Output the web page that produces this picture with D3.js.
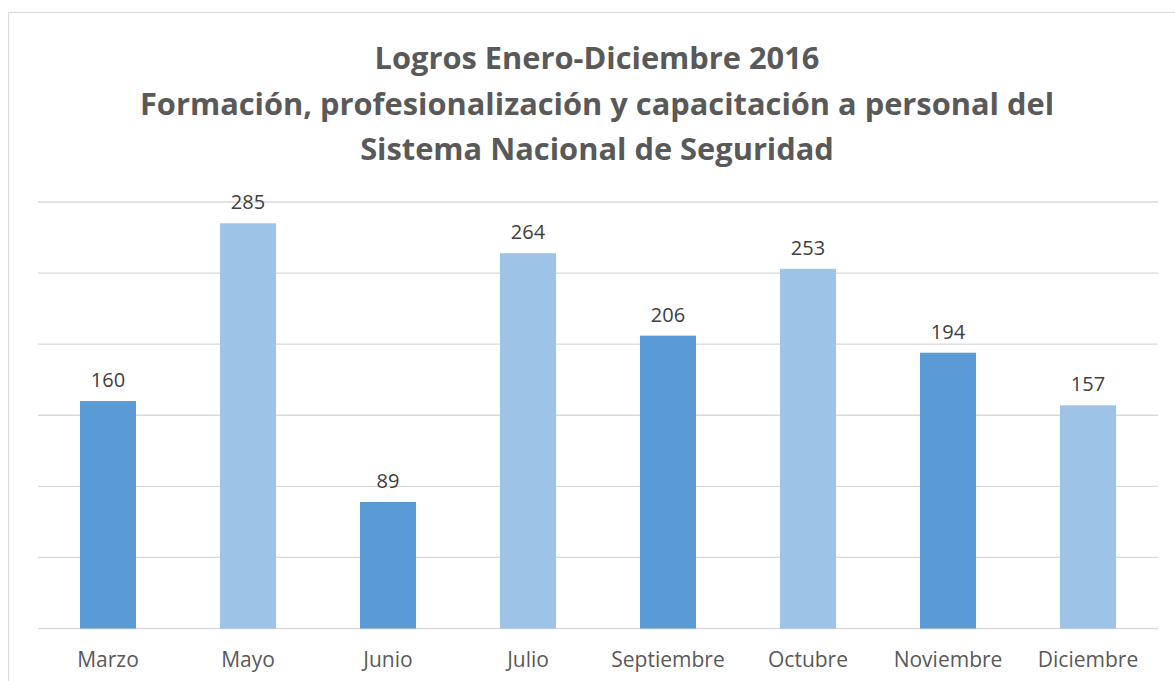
<!DOCTYPE html>
<html lang="es">
<head>
  <meta charset="UTF-8">
  <title>Logros Enero-Diciembre 2016</title>
  <script src="https://d3js.org/d3.v7.min.js"></script>
  <style>
    body { margin: 0; padding: 0; background: #fff; overflow: hidden; }
    svg { display: block; font-family: "Open Sans", sans-serif; }
  </style>
</head>
<body>
<svg id="chart" width="1175" height="681"></svg>
<script>
// datos
const months = ["Marzo", "Mayo", "Junio", "Julio", "Septiembre", "Octubre", "Noviembre", "Diciembre"];
const values = [160, 285, 89, 264, 206, 253, 194, 157];
const barColors = ["#5B9BD5", "#9DC3E6"];
const yTicks = [0, 50, 100, 150, 200, 250, 300];
const titleLines = [
  "Logros Enero-Diciembre 2016",
  "Formación, profesionalización y capacitación a personal del",
  "Sistema Nacional de Seguridad"
];

const svg = d3.select("#chart");
const plot = {left: 38, right: 1158, top: 202, bottom: 628.5};

// marco del gráfico
svg.append("rect")
  .attr("x", 8.5).attr("y", 12.5)
  .attr("width", 1200).attr("height", 700)
  .attr("fill", "#fff")
  .attr("stroke", "#D9D9D9")
  .attr("stroke-width", 1);

// título
svg.append("g").selectAll("text")
  .data(titleLines)
  .enter().append("text")
  .attr("x", 597)
  .attr("y", (d, i) => 69 + i * 45.5)
  .attr("text-anchor", "middle")
  .attr("font-size", "30.8px")
  .attr("font-weight", "bold")
  .attr("fill", "#595959")
  .text(d => d);

const x = d3.scaleBand()
  .domain(months)
  .range([plot.left, plot.right])
  .paddingInner(0.6)
  .paddingOuter(0.3);

const y = d3.scaleLinear()
  .domain([0, 300])
  .range([plot.bottom, plot.top]);

// líneas de cuadrícula
svg.append("g").selectAll("line")
  .data(yTicks)
  .enter().append("line")
  .attr("x1", plot.left).attr("x2", plot.right)
  .attr("y1", d => y(d)).attr("y2", d => y(d))
  .attr("stroke", "#D9D9D9")
  .attr("stroke-width", 1.3);

// barras
svg.append("g").selectAll("rect")
  .data(values)
  .enter().append("rect")
  .attr("x", (d, i) => x(months[i]))
  .attr("y", d => y(d))
  .attr("width", x.bandwidth())
  .attr("height", d => y(0) - y(d))
  .attr("fill", (d, i) => barColors[i % 2]);

// etiquetas de datos
svg.append("g").selectAll("text")
  .data(values)
  .enter().append("text")
  .attr("x", (d, i) => x(months[i]) + x.bandwidth() / 2)
  .attr("y", d => y(d) - 14)
  .attr("text-anchor", "middle")
  .attr("font-size", "20px")
  .attr("fill", "#404040")
  .text(d => d);

// eje x
const xAxis = svg.append("g")
  .attr("transform", `translate(0,${plot.bottom})`)
  .call(d3.axisBottom(x).tickSize(0).tickPadding(0));
xAxis.select(".domain").remove();
xAxis.selectAll("text")
  .attr("y", 38)
  .attr("dy", null)
  .attr("font-family", "Open Sans, sans-serif")
  .attr("font-size", "21px")
  .attr("fill", "#595959");
</script>
</body>
</html>
